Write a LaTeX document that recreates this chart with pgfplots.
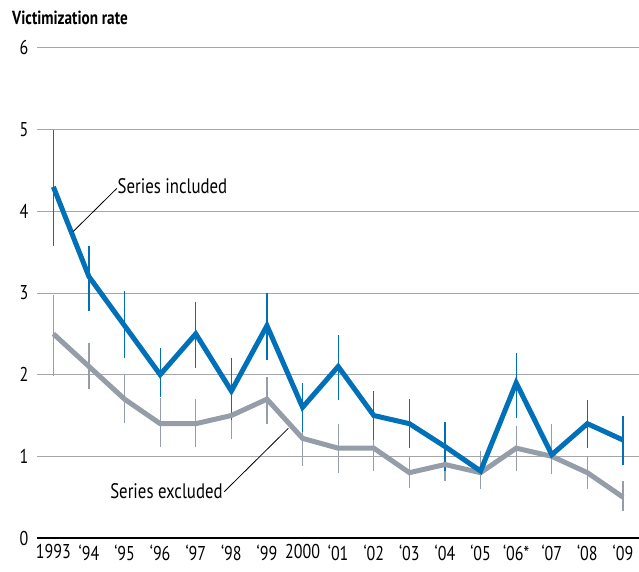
\documentclass[border=0pt]{standalone}
\usepackage{pgfplots}
\usepackage{pgfplotstable}
\usepackage{fontspec}
\pgfplotsset{compat=1.18}
\setmainfont{PT Sans}[FakeStretch=0.80]

\definecolor{cBlue}{RGB}{0,112,184}
\definecolor{cGray}{RGB}{148,157,168}
\definecolor{cGrid}{RGB}{165,165,172}

% year, rate, lower and upper bound of the interval
\pgfplotstableread{
year val lo hi
1993 4.30 3.58 5.00
1994 3.20 2.78 3.58
1995 2.60 2.21 3.02
1996 2.00 1.73 2.33
1997 2.50 2.08 2.89
1998 1.80 1.45 2.20
1999 2.60 2.18 3.00
2000 1.60 1.30 1.90
2001 2.10 1.69 2.48
2002 1.50 1.20 1.80
2003 1.40 1.10 1.70
2004 1.12 0.82 1.42
2005 0.82 0.82 0.82
2006 1.90 1.47 2.27
2007 1.02 1.02 1.02
2008 1.40 1.10 1.69
2009 1.20 0.90 1.50
}\included

\pgfplotstableread{
year val lo hi
1993 2.50 1.98 2.98
1994 2.10 1.82 2.39
1995 1.70 1.41 2.00
1996 1.40 1.11 1.71
1997 1.40 1.11 1.70
1998 1.50 1.21 1.78
1999 1.70 1.40 1.97
2000 1.22 0.88 1.50
2001 1.10 0.80 1.39
2002 1.10 0.82 1.41
2003 0.80 0.61 1.00
2004 0.90 0.70 1.16
2005 0.80 0.60 1.07
2006 1.10 0.82 1.37
2007 1.00 0.78 1.39
2008 0.80 0.60 1.00
2009 0.50 0.33 0.70
}\excluded

\begin{document}
\begin{tikzpicture}
\begin{axis}[
    width=602pt, height=490pt,
    scale only axis,
    xmin=1992.54, xmax=2009.45,
    ymin=0, ymax=6,
    clip=false,
    axis x line*=bottom,
    axis y line*=left,
    x axis line style={line width=2.6pt, black, -},
    y axis line style={draw=none},
    major tick length=0pt,
    ytick={0,1,2,3,4,5,6},
    ymajorgrids,
    grid style={cGrid, line width=1pt},
    xtick={1993,1994,1995,1996,1997,1998,1999,2000,2001,2002,2003,2004,2005,2006,2007,2008,2009},
    xticklabels={1993,‘94,‘95,‘96,‘97,‘98,‘99,2000,‘01,‘02,‘03,‘04,‘05,‘06*,‘07,‘08,‘09},
    /pgf/number format/assume math mode=true,
    tick label style={font=\fontsize{20}{22}\selectfont},
    yticklabel style={anchor=east, xshift=-5pt},
    xticklabel style={yshift=-3pt},
]
% interval bars
\addplot[draw=none, mark=none, forget plot,
    error bars/.cd, y dir=both, y explicit, error mark=none,
    error bar style={draw=cGray, line width=1.2pt}]
  table[x=year, y=val, y error plus expr=\thisrow{hi}-\thisrow{val},
        y error minus expr=\thisrow{val}-\thisrow{lo}] {\excluded};
\addplot[draw=none, mark=none, forget plot,
    error bars/.cd, y dir=both, y explicit, error mark=none,
    error bar style={draw=cBlue, line width=1.2pt}]
  table[x=year, y=val, y error plus expr=\thisrow{hi}-\thisrow{val},
        y error minus expr=\thisrow{val}-\thisrow{lo}] {\included};
% series
\addplot[cGray, line width=5pt, mark=none, line join=miter] table[x=year, y=val] {\excluded};
\addplot[cBlue, line width=5pt, mark=none, line join=miter] table[x=year, y=val] {\included};

% labels
\draw[black, line width=0.8pt] (axis cs:1993.55,3.75) -- (axis cs:1994.78,4.28);
\node[anchor=base west, inner sep=0pt, font=\fontsize{21}{24}\selectfont]
  at (axis cs:1994.80,4.22) {Series included};
\draw[black, line width=0.8pt] (axis cs:1997.80,0.567) -- (axis cs:1999.60,1.343);
\node[anchor=base east, inner sep=0pt, font=\fontsize{21}{24}\selectfont]
  at (axis cs:1997.76,0.486) {Series excluded};
\node[anchor=base west, inner sep=0pt, font=\bfseries\fontsize{19}{22}\selectfont]
  at ([xshift=-25pt, yshift=23pt]rel axis cs:0,1) {Victimization rate};
\end{axis}
\pgfresetboundingbox
\useasboundingbox ([xshift=-37pt, yshift=-33pt]current axis.south west)
  rectangle ([yshift=48pt]current axis.north east);
\end{tikzpicture}
\end{document}
